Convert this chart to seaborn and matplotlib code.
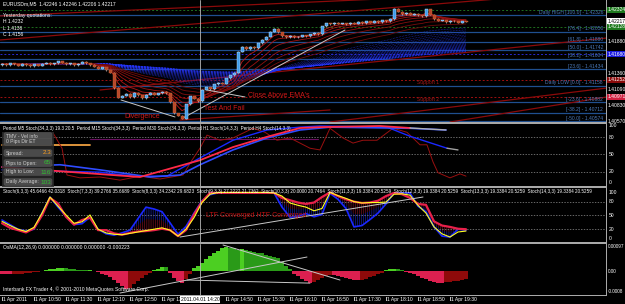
import numpy as np
import pandas as pd
import matplotlib
matplotlib.use("Agg")
import matplotlib.pyplot as plt
from matplotlib.patches import Rectangle, FancyBboxPatch
from matplotlib.transforms import Bbox, TransformedBbox
import seaborn as sns

sns.set_style("dark", {"axes.facecolor": "black", "figure.facecolor": "black"})
plt.rcParams['font.family'] = ['Liberation Sans', 'DejaVu Sans']
plt.rcParams['hatch.linewidth'] = 0.3

# ---------------- data ----------------
closes = [1.4152, 1.4150, 1.4153, 1.4151, 1.4149, 1.4152, 1.4150, 1.4148, 1.4151, 1.4149,
          1.4152, 1.4154, 1.4151, 1.4153, 1.4156, 1.4154, 1.4151, 1.4153, 1.4150, 1.4152,
          1.4155, 1.4153, 1.4150, 1.4147, 1.4144, 1.4146, 1.4141, 1.4137, 1.4112, 1.4096,
          1.4099, 1.4102, 1.4097, 1.4104, 1.4100, 1.4095, 1.4101, 1.4104, 1.4101, 1.4103,
          1.4106, 1.4103, 1.4088, 1.4070, 1.4066, 1.4061, 1.4085, 1.4098, 1.4094, 1.4090,
          1.4109, 1.4113, 1.4110, 1.4118, 1.4121, 1.4119, 1.4128, 1.4133, 1.4137, 1.4172,
          1.4180, 1.4176, 1.4180, 1.4178, 1.4186, 1.4192, 1.4197, 1.4205, 1.4210, 1.4204,
          1.4198, 1.4196, 1.4198, 1.4196, 1.4197, 1.4199, 1.4198, 1.4201, 1.4203, 1.4201,
          1.4214, 1.4219, 1.4217, 1.4220, 1.4218, 1.4219, 1.4217, 1.4220, 1.4218, 1.4221,
          1.4219, 1.4222, 1.4220, 1.4223, 1.4221, 1.4224, 1.4222, 1.4226, 1.4243, 1.4238,
          1.4234, 1.4236, 1.4233, 1.4235, 1.4232, 1.4231, 1.4242, 1.4233, 1.4226, 1.4223,
          1.4224, 1.4221, 1.4223, 1.4222, 1.4220, 1.4222, 1.42217]
first_open = 1.4150

time_labels = ["1 Apr 2011", "1 Apr 10:50", "1 Apr 11:30", "1 Apr 12:10", "1 Apr 12:50",
               "1 Apr 13:30", "1 Apr 14:50", "1 Apr 15:30", "1 Apr 16:10",
               "1 Apr 16:50", "1 Apr 17:30", "1 Apr 18:10", "1 Apr 18:50", "1 Apr 19:30"]
time_label_bars = [0, 8, 16, 24, 32, 40, 56, 64, 72, 80, 88, 96, 104, 112]
cursor_label = "2011.04.01 14:20"

fib_levels = [1.42326, 1.42050, 1.41880, 1.41742, 1.41604, 1.41434, 1.41158, 1.40882, 1.40712, 1.40574]
fib_labels = ["Daily HIGH [100.0] - 1.42326", "[76.4] - 1.42050", "[61.8] - 1.41880",
              "[50.0] - 1.41742", "[38.2] - 1.41604", "[23.6] - 1.41434",
              "Daily LOW [0.0] - 1.41158", "[-23.6] - 1.40882", "[-38.2] - 1.40712",
              "[-50.0] - 1.40574"]
res_levels = [1.42409, 1.42128]
sup_levels = [1.41252, 1.40971]
pivot_level = 1.41680

price_ticks = [1.41880, 1.41360, 1.41090, 1.40830, 1.40570]
price_tick_labels = ["1.41880", "1.41360", "1.41090", "1.40830", "1.40570"]
price_boxes = [1.42409, 1.42217, 1.42128, 1.41680, 1.41252, 1.40971]
price_box_labels = ["1.42324", "1.42217", "1.42128", "1.41680", "1.41252", "1.40971"]

# trend lines (bar index, price)
red_channels = [([-0.5, 100.0], [1.42310, 1.42607]),
                ([-0.5, 151.0], [1.41913, 1.42739]),
                ([24.5, 151.25], [1.41086, 1.41946]),
                ([82.0, 151.25], [1.40557, 1.41119]),
                ([112.0, 151.25], [1.40557, 1.40971]),
                ([44.5, 82.0], [1.40590, 1.40756])]
gray_main = [([29.75, 43.25], [1.40921, 1.40640]),
             ([45.25, 85.75], [1.40624, 1.42078]),
             ([51.25, 60.75], [1.41086, 1.40971])]

# stochastic panel 1 (multi timeframe)
m5_x = [12.75, 15, 16.25, 19.5, 24.5, 29.5, 34.5, 39.5, 45.25, 47.5, 49.5, 51.25, 54.5, 57.75,
        62.75, 65.75, 68.75, 72, 74.5, 77, 79.5, 82, 85.25, 87.75, 90.25, 93.75, 97.75,
        101.25, 104.5, 106.25, 107.75, 109, 112, 114.5, 116]
m5_v = [88, 61, 14, 9, 10.5, 5, 12, 7, 14, 40, 61, 84, 75, 79, 96, 89, 75, 79, 70, 61,
        58, 96, 79, 70, 75, 75, 96, 89, 67, 67, 37, 18, 9, 16, 12]
m15_x = [0, 24.5, 32.75, 41.25, 49.5, 57.75, 66.25, 74.5, 79.5, 96.25, 102, 111.25]
m15_v = [23, 19, 12, 12, 44, 75, 93, 98, 100, 98, 82, 61]
m30_x = [0, 14.5, 24.5, 37, 44.5, 49.5, 57.75, 66.25, 74.5, 82, 102, 111]
m30_v = [28, 32, 23, 10.5, 14, 32, 58, 79, 93, 98, 96, 93]
h1_x = [0, 34.5, 49.5, 57.75, 66.25, 74.5, 79.5, 94.5, 102]
h1_v = [28, 10.5, 40, 63, 81, 96.5, 98, 100, 96.5]
h4a_x = [0, 22]
h4a_v = [67, 67]
h4b_x = [22, 79]
h4b_v = [77, 77]

# stochastic panel 2 (even bars)
st2_x = list(range(0, 117, 2))
st2_red = [33, 23, 18, 13, 22, 50, 88, 76, 47, 30, 40, 45, 18, 18, 11, 8, 12, 15, 16, 18,
           21, 18, 5, 18, 52, 80, 99, 99, 99, 99, 99, 99, 99, 99, 99, 88, 83, 78, 75, 78,
           90, 100, 92, 85, 80, 77, 78, 82, 92, 99, 96, 88, 75, 73, 37, 28, 25, 21, 20]
st2_blue = [40, 30, 20, 16, 20, 55, 90, 68, 48, 30, 32, 46, 20, 10, 7, 12, 18, 43, 68, 64,
            58, 34, 9, 26, 55, 82, 95, 99, 99, 99, 99, 99, 99, 99, 99, 68, 46, 48, 54, 47,
            52, 98, 85, 65, 25, 28, 41, 55, 75, 99, 99, 99, 70, 58, 25, 5, 3, 20, 18]
st2_yellow = [37, 28, 20, 15, 24, 55, 90, 70, 51, 33, 36, 51, 20, 12, 9, 8, 11, 14, 17, 20,
              23, 18, 5, 20, 45, 78, 96, 100, 100, 100, 100, 100, 100, 100, 99, 92, 77, 72, 68, 60,
              65, 100, 93, 87, 80, 77, 78, 78, 79, 96, 97, 94, 72, 55, 25, 10, 3, 14, 16]
st2_trend = ([44.5, 105.25], [3, 90])

# OsMA (units of 1e-4)
osma_e4 = [-1.0, -1.2, -1.3, -1.2, -1.1, -1.0, -0.9, -0.7, -0.5, -0.3,
           -0.1, 0.3, 0.6, 0.9, 1.2, 1.3, 1.2, 0.9, 0.6, 0.5,
           0.3, 0.2, 0.3, 0.1, -0.5, -1.0, -1.6, -2.5, -3.5, -4.6,
           -5.8, -7.0, -6.5, -5.0, -3.8, -2.8, -1.6, -0.8, 0.2, 0.8,
           1.5, 1.4, -0.8, -2.8, -4.0, -4.5, -3.0, -1.0, 1.0, 1.8,
           3.0, 4.5, 5.8, 6.8, 7.6, 9.0, 9.3, 9.1, 8.8, 8.3,
           8.6, 8.0, 7.6, 7.4, 7.0, 6.8, 6.3, 6.0, 5.6, 5.0,
           3.6, 2.0, 0.8, -1.0, -2.0, -3.2, -4.0, -4.6, -4.2, -3.5,
           -2.6, -1.8, -1.4, -1.6, -2.0, -2.4, -2.8, -3.2, -3.5, -3.6,
           -3.4, -3.0, -2.5, -1.9, -1.2, -0.6, 0.4, 0.7, 0.8, 0.6,
           0.3, -0.2, -0.6, -1.2, -2.0, -2.6, -3.2, -3.8, -4.2, -4.5,
           -4.6, -4.4, -4.2, -4.0, -3.8, -3.5, -3.2]
osma_trends = [([29.5, 76.25], [-8.54, 5.43]),
               ([55.25, 84.5], [10.1, -3.5]),
               ([46.25, 77.0], [-3.5, -4.7])]

crosshair_bar = 49.5

# ---------------- layout ----------------
W, H = 625, 304
fig = plt.figure(figsize=(W / 100, H / 100), dpi=100, facecolor="black")


def fx(x):
    return x / W


def fy(y):
    return 1 - y / H


def add_ax(top, bottom):
    ax = fig.add_axes([0, fy(bottom), 606 / W, (bottom - top) / H])
    ax.set_facecolor("black")
    ax.set_xlim(-0.5, 151)
    for s in ax.spines.values():
        s.set_visible(False)
    ax.set_xticks([])
    ax.set_yticks([])
    ax.grid(False)
    return ax


ax0 = add_ax(0, 122)
ax1 = add_ax(124, 186)
ax2 = add_ax(188, 242)
ax3 = add_ax(244, 295)
ax0.set_ylim(1.40557, 1.42574)
ax1.set_ylim(-5.3, 103.5)
ax2.set_ylim(-7.8, 109.6)
ax3.set_ylim(-9.31, 10.48)

FS = 3.6
gray = "#c8c8c8"

# ---------------- main price panel ----------------
c = np.array(closes)
o = np.array([first_open] + closes[:-1])
x = np.arange(len(c))
hi = np.maximum(o, c) + 0.0001
lo = np.minimum(o, c) - 0.0001

for lvl in fib_levels:
    ax0.axhline(lvl, color="#1f4f8f", lw=0.9)
for lvl in res_levels:
    ax0.axhline(lvl, color="#1e6e1e", lw=0.7, ls=(0, (2, 2)))
for lvl in sup_levels:
    ax0.axhline(lvl, color="#a01010", lw=0.7, ls=(0, (2, 2)))
ax0.axhline(pivot_level, color="#2a2ad0", lw=0.7, ls=(0, (2, 2)))

for xs, ys in red_channels:
    sns.lineplot(x=xs, y=ys, ax=ax0, color="#8b0a0a", lw=0.9, estimator=None, sort=False)

s = pd.Series(closes)
for span in range(50, 211, 6):
    ema = s.ewm(span=span, adjust=False).mean()
    sns.lineplot(x=x, y=ema.values, ax=ax0, color="#2838ff", lw=0.5, alpha=0.75,
                 ls=(0, (1, 1.2)), estimator=None)
for span, col in zip([5, 8, 12, 17, 23, 30, 38], ["#c01818", "#b01515", "#a01212", "#921010",
                                                   "#850e0e", "#780c0c", "#6c0a0a"]):
    ema = s.ewm(span=span, adjust=False).mean()
    sns.lineplot(x=x, y=ema.values, ax=ax0, color=col, lw=0.6, estimator=None)

ax0.vlines(x, lo, hi, color="#c8c8c8", lw=0.5, zorder=4)
up = c >= o
ax0.bar(x[up], (c - o)[up], bottom=o[up], width=0.75, color="#3d9be9",
        edgecolor="#d8ecff", lw=0.3, zorder=5)
ax0.bar(x[~up], (c - o)[~up], bottom=o[~up], width=0.75, color="#b8482a",
        edgecolor="#c86a3a", lw=0.3, zorder=5)

for xs, ys in gray_main:
    sns.lineplot(x=xs, y=ys, ax=ax0, color=gray, lw=0.7, estimator=None, sort=False)

ytr = ax0.get_yaxis_transform()
for lvl, lab in zip(fib_levels, fib_labels):
    ax0.text(0.995, lvl + 0.00004, lab, transform=ytr, ha="right", va="bottom",
             color="#4a78b8", fontsize=FS)
ax0.text(103.75, sup_levels[0] - 0.00004, "Support 1", color="#a01818", fontsize=FS, va="top")
ax0.text(103.75, sup_levels[1] - 0.00004, "Support 2", color="#a01818", fontsize=FS, va="top")
ax0.text(30.5, 1.4064, "Divergence", color="#d01818", fontsize=5, va="center")
ax0.text(50.5, 1.4078, "Test And Fail", color="#d01818", fontsize=5, va="center")
ax0.text(61.5, 1.4099, "Close Above EMA's", color="#d01818", fontsize=5, va="center")

for lvl, lab in zip(price_ticks, price_tick_labels):
    ax0.text(1.003, lvl, lab, transform=ytr, ha="left", va="center", color="white",
             fontsize=FS, clip_on=False)
box_cols = ["#1e7a1e", "white", "#1e7a1e", "#1a1ae0", "#8b0a0a", "#d02040"]
for lvl, lab, bc in zip(price_boxes, price_box_labels, box_cols):
    ax0.text(1.003, lvl, lab, transform=ytr, ha="left", va="center",
             color="black" if bc == "white" else "white", fontsize=FS, clip_on=False,
             bbox=dict(boxstyle="square,pad=0.12", fc=bc, ec="none"))

# ---------------- stochastic panel 1 ----------------
for lvl in [80, 50, 20]:
    ax1.axhline(lvl, color="#909090", lw=0.5, ls=(0, (2, 2)))
sns.lineplot(x=h4a_x, y=h4a_v, ax=ax1, color="#f0a040", lw=1.3, estimator=None)
sns.lineplot(x=h4b_x, y=h4b_v, ax=ax1, color="#6a1060", lw=0.8, estimator=None)
sns.lineplot(x=m5_x, y=m5_v, ax=ax1, color="#9a1010", lw=0.7, estimator=None)
sns.lineplot(x=m15_x, y=m15_v, ax=ax1, color="#1a28ff", lw=1.0, estimator=None)
sns.lineplot(x=m30_x, y=m30_v, ax=ax1, color="#2f4cff", lw=1.2, estimator=None)
sns.lineplot(x=h1_x, y=h1_v, ax=ax1, color="#ff2a48", lw=1.3, estimator=None)
sns.lineplot(x=[111.25, 114], y=[61, 58], ax=ax1, color="#a0a0a0", lw=1.0, estimator=None)
sns.lineplot(x=[102, 111], y=[96.5, 93], ax=ax1, color="#b0b0b0", lw=1.0, estimator=None)
ytr1 = ax1.get_yaxis_transform()
for v in [100, 80, 50, 20, 0]:
    ax1.text(1.004, v, str(v), transform=ytr1, ha="left", va="center", color="white",
             fontsize=FS, clip_on=False)

# ---------------- stochastic panel 2 ----------------
for lvl in [80, 50, 20]:
    ax2.axhline(lvl, color="#909090", lw=0.5, ls=(0, (2, 2)))
r = np.array(st2_red, float)
b = np.array(st2_blue, float)
mid = (r + b) / 2
ax2.fill_between(st2_x, r, mid, facecolor="none", edgecolor="#c0182e", hatch="||||||||", lw=0)
ax2.fill_between(st2_x, mid, b, facecolor="none", edgecolor="#2030ff", hatch="||||||||", lw=0)
sns.lineplot(x=st2_x, y=st2_blue, ax=ax2, color="#1a28ff", lw=1.2, estimator=None)
sns.lineplot(x=st2_x, y=st2_red, ax=ax2, color="#e8204a", lw=1.6, estimator=None)
sns.lineplot(x=st2_x, y=st2_yellow, ax=ax2, color="#ffff20", lw=0.8, estimator=None)
sns.lineplot(x=st2_trend[0], y=st2_trend[1], ax=ax2, color=gray, lw=0.7, estimator=None)
ax2.text(51.0, 50, "LTF Converged HTF Converged", color="#c01010", fontsize=5, va="center")
ytr2 = ax2.get_yaxis_transform()
for v in [100, 80, 50, 20, 0]:
    ax2.text(1.004, v, str(v), transform=ytr2, ha="left", va="center", color="white",
             fontsize=FS, clip_on=False)

# ---------------- OsMA panel ----------------
osma = np.array(osma_e4)
prev = np.concatenate([[osma[0]], osma[:-1]])
cols = np.where(osma >= 0, np.where(osma >= prev, "#4ccf22", "#2a9a18"),
                np.where(osma <= prev, "#dc2050", "#8e0a0a"))
ax3.bar(x, osma, width=0.8, color=cols, lw=0)
for xs, ys in osma_trends:
    sns.lineplot(x=xs, y=ys, ax=ax3, color=gray, lw=0.7, estimator=None)
ytr3 = ax3.get_yaxis_transform()
for v, lab in [(9.7, "0.00097"), (0, "0.00"), (-8.0, "-0.0008")]:
    ax3.text(1.003, v, lab, transform=ytr3, ha="left", va="center", color="white",
             fontsize=3.3, clip_on=False)

for ax in (ax0, ax1, ax2, ax3):
    ax.axvline(crosshair_bar, color="#b8b8b8", lw=0.6)
    ax.set_xlabel("")
    ax.set_ylabel("")
    leg = ax.get_legend()
    if leg:
        leg.remove()

# ---------------- frame / separators ----------------
for top in [122, 186, 242]:
    fig.add_artist(Rectangle((0, fy(top + 2)), 606 / W, 2 / H, transform=fig.transFigure,
                             fc="#a8a8a8", ec="none"))
fig.add_artist(Rectangle((0, fy(295.5)), 607 / W, 1 / H, transform=fig.transFigure,
                         fc="#a8a8a8", ec="none"))
fig.add_artist(Rectangle((fx(606), fy(295.5)), 1 / W, 295.5 / H, transform=fig.transFigure,
                         fc="#a8a8a8", ec="none"))

# ---------------- texts ----------------
fig.text(fx(3), fy(4), "EURUSDm,M5  1.42246 1.42246 1.42206 1.42217", color="white",
         fontsize=FS, va="center")
fig.text(fx(3), fy(16), "Yesterday quotations:", color="white", fontsize=FS, va="center")
fig.text(fx(3), fy(21.5), "H 1.4232", color="white", fontsize=FS, va="center")
fig.text(fx(3), fy(28), "L 1.4136", color="white", fontsize=FS, va="center")
fig.text(fx(3), fy(34), "C 1.4156", color="white", fontsize=FS, va="center")

fig.text(fx(3), fy(128.5),
         "Period M5 Stoch(34,3,3) 19.3 20.5  Period M15 Stoch(34,3,3)  Period M30 Stoch(34,3,3)  "
         "Period H1 Stoch(14,3,3)  Period H4 Stoch(14,3,3)", color="white", fontsize=3.3,
         va="center")
fig.text(fx(3), fy(192),
         "Stoch(6,3,3) 45.6466 42.0318  Stoch(7,3,3) 39.2766 35.6689  Stoch(8,3,3) 34.2342 29.6823  "
         "Stoch(9,3,3) 27.2222 21.7362  Stoch(10,3,3) 20.0000 20.7464  Stoch(11,3,3) 19.3384 20.5259  "
         "Stoch(12,3,3) 19.3384 20.5259  Stoch(13,3,3) 19.3384 20.5259  Stoch(14,3,3) 19.3384 20.5259",
         color="white", fontsize=3.3, va="center")
fig.text(fx(3), fy(248), "OsMA(12,26,9) 0.000000 0.000000 0.000000 -0.000223", color="white",
         fontsize=FS, va="center")
fig.text(fx(3), fy(289.5), "Interbank FX Trader 4, \u00a9 2001-2010 MetaQuotes Software Corp.",
         color="white", fontsize=FS, va="center")

# info box
fig.add_artist(Rectangle((fx(2), fy(187)), 52 / W, 55 / H, transform=fig.transFigure,
                         fc="#2a2a2a", ec="none", alpha=0.85))
rows = [(136, "TMV - Vel info", None, None), (142, "0 Pips Dir ET", None, None),
        (153, "Spread:", "2.3", "#ffa020"), (163, "Pips to Open:", "65", "#30c030"),
        (172, "High to Low:", "116", "#30c030"), (182, "Daily Average:", "103", "#30c030")]
for yy, lab, val, vc in rows:
    fig.add_artist(FancyBboxPatch((fx(4), fy(yy + 3.5)), 48 / W, 7 / H,
                                  boxstyle="round,pad=0,rounding_size=0.004",
                                  transform=fig.transFigure, fc="#4a4a4a", ec="#5a5a5a", lw=0.3))
    fig.text(fx(6), fy(yy), lab, color="#d0d0d0", fontsize=FS, va="center")
    if val:
        fig.text(fx(51), fy(yy), val, color=vc, fontsize=4.6, va="center", ha="right")

# time axis
clip_to_cursor = TransformedBbox(Bbox([[0, 0], [181 / W, 1]]), fig.transFigure)
for bi, lab in zip(time_label_bars, time_labels):
    px = 4 * bi + 3
    fig.add_artist(Rectangle((fx(px - 1), fy(301)), 0.6 / W, 4 / H, transform=fig.transFigure,
                             fc="#c0c0c0", ec="none"))
    t = fig.text(fx(px), fy(299.5), lab, color="white", fontsize=FS, va="center")
    if bi == 40:
        t.set_text("1 Apr 13:")
fig.text(fx(200), fy(299.5), cursor_label, color="black", fontsize=FS, va="center",
         ha="center", zorder=10, bbox=dict(boxstyle="square,pad=0.15", fc="white", ec="none"))

fig.savefig("out.png", dpi=100, facecolor="black")
